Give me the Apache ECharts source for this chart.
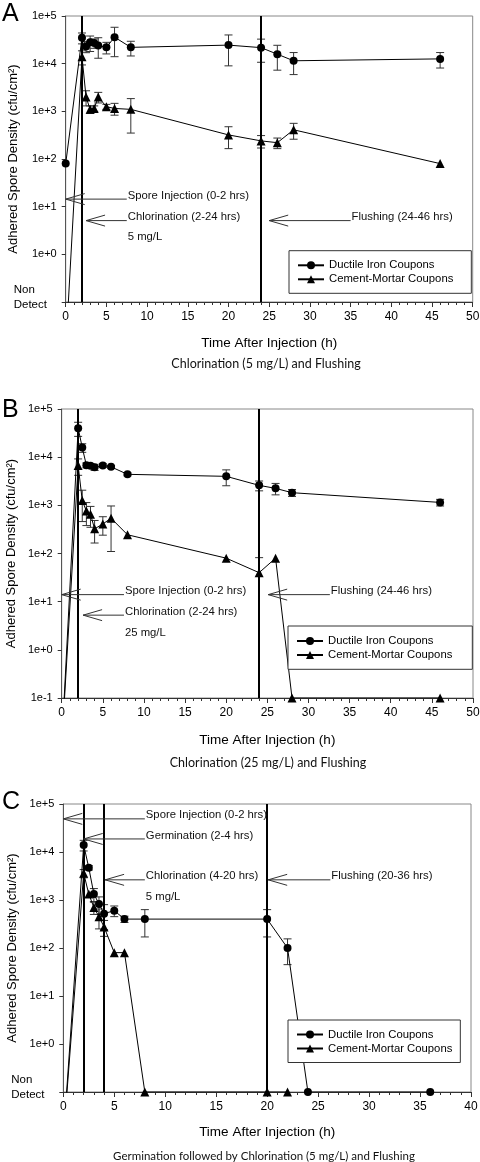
<!DOCTYPE html>
<html><head><meta charset="utf-8">
<script src="https://cdn.jsdelivr.net/npm/echarts@6/dist/echarts.min.js"></script>
<style>html,body{margin:0;padding:0;background:#fff}#c{width:480px;height:1162px}</style>
</head><body><div id="c"></div>
<script>
// ---------- data ----------
const ND = 0.1;      // non-detect, drawn on the axis floor
const BELOW = 0.01;  // t=0 samples below the floor (line enters from the bottom)

// Panel A : Chlorination (5 mg/L) and Flushing
const A_time = [0, 2, 2.5, 3, 3.5, 4, 5, 6, 8, 20, 24, 26, 28, 46];
const A_iron = [80, 35000, 23000, 28000, 27000, 24000, 22000, 36000, 22000, 24500, 21700, 15800, 11500, 12600];
const A_ironErr = [0, 9000, 6000, 10000, 6000, 11000, 6000, 22000, 7500, 15500, 11000, 8500, 5600, 4500];
const A_mortar = [BELOW, 14000, 2000, 1100, 1150, 2000, 1250, 1150, 1100, 320, 240, 220, 410, 80];
const A_mortarErr = [0, 4600, 700, 200, 150, 500, 150, 320, 750, 155, 70, 55, 150, 0];
const A_phases = [2, 24];

// Panel B : Chlorination (25 mg/L) and Flushing
const B_time = [0, 2, 2.5, 3, 3.5, 4, 5, 6, 8, 20, 24, 26, 28, 46];
const B_iron = [BELOW, 40000, 15800, 6800, 6600, 6200, 6700, 6300, 4400, 4000, 2600, 2250, 1830, 1150];
const B_ironErr = [0, 13000, 3200, 800, 700, 900, 600, 400, 300, 1450, 600, 600, 300, 180];
const B_mortar = [BELOW, 6700, 1260, 760, 650, 325, 410, 540, 245, 80, 40, 80, ND, ND];
const B_mortarErr = [0, 2500, 800, 380, 300, 160, 170, 430, 0, 0, 42, 0, 0, 0];
const B_phases = [2, 24];

// Panel C : Germination followed by Chlorination (5 mg/L) and Flushing
const C_time = [0, 2, 2.5, 3, 3.5, 4, 5, 6, 8, 20, 22, 24, 36];
const C_iron = [BELOW, 14000, 4700, 1330, 830, 520, 600, 400, 400, 400, 100, ND, ND];
const C_ironErr = [0, 3500, 500, 400, 330, 280, 150, 60, 230, 230, 55, 0, 0];
const C_mortar = [BELOW, 3600, 1330, 700, 450, 275, 80, 80, ND, ND, ND, null, null];
const C_mortarErr = [0, 700, 0, 200, 200, 100, 0, 0, 0, 0, 0, 0, 0];
const C_phases = [2, 4, 20];

const SERIES_NAMES = ['Ductile Iron Coupons', 'Cement-Mortar Coupons'];
const X_TITLE = 'Time After Injection (h)';
const Y_TITLE = 'Adhered Spore Density (cfu/cm²)';

// annotations: arrow tip [hours, density], text starts at hour textX
const A_notes = [
  {text: 'Spore Injection (0-2 hrs)', tip: [0, 14.4], textX: 7.5},
  {text: 'Chlorination (2-24 hrs)', tip: [2.5, 5.1], textX: 7.5},
  {text: 'Flushing (24-46 hrs)', tip: [25, 5.1], textX: 35}
];
const A_labels = [{text: '5 mg/L', at: [7.5, 2.33]}];
const B_notes = [
  {text: 'Spore Injection (0-2 hrs)', tip: [0, 14], textX: 7.57},
  {text: 'Chlorination (2-24 hrs)', tip: [2.6, 5.25], textX: 7.57},
  {text: 'Flushing (24-46 hrs)', tip: [25.1, 14], textX: 32.6}
];
const B_labels = [{text: '25 mg/L', at: [7.57, 2.2]}];
const C_notes = [
  {text: 'Spore Injection (0-2 hrs)', tip: [0, 49000], textX: 8.0},
  {text: 'Germination (2-4 hrs)', tip: [2.0, 18700], textX: 8.0},
  {text: 'Chlorination (4-20 hrs)', tip: [4.1, 2630], textX: 8.0},
  {text: 'Flushing (20-36 hrs)', tip: [20.1, 2630], textX: 26.2}
];
const C_labels = [{text: '5 mg/L', at: [8.0, 1170]}];

const panels = [
  {letter: 'A', time: A_time, iron: A_iron, ironErr: A_ironErr, mortar: A_mortar, mortarErr: A_mortarErr,
   phases: A_phases, notes: A_notes, labels: A_labels, xMax: 50, nd: true,
   caption: 'Chlorination (5 mg/L) and Flushing',
   grid: {left: 65.7, top: 16, width: 407, height: 286}, nameGapY: 46, nameGapX: 34,
   legend: {left: 289, top: 250.7, padding: [7.6, 18, 7, 8]},
   letterPos: [2, 14], captionPos: [266, 364], captionSize: 12.5},
  {letter: 'B', time: B_time, iron: B_iron, ironErr: B_ironErr, mortar: B_mortar, mortarErr: B_mortarErr,
   phases: B_phases, notes: B_notes, labels: B_labels, xMax: 50, nd: false,
   caption: 'Chlorination (25 mg/L) and Flushing',
   grid: {left: 61.7, top: 409, width: 411.3, height: 289}, nameGapY: 44, nameGapX: 35,
   legend: {left: 288, top: 626, padding: [8, 20, 7.3, 8]},
   letterPos: [2, 410], captionPos: [268, 763], captionSize: 12.5},
  {letter: 'C', time: C_time, iron: C_iron, ironErr: C_ironErr, mortar: C_mortar, mortarErr: C_mortarErr,
   phases: C_phases, notes: C_notes, labels: C_labels, xMax: 40, nd: true,
   caption: 'Germination followed by Chlorination (5 mg/L) and Flushing',
   grid: {left: 63.3, top: 804, width: 407.7, height: 288}, nameGapY: 44, nameGapX: 33,
   legend: {left: 288, top: 1020, padding: [7.5, 8, 7, 8]},
   letterPos: [2, 802], captionPos: [264, 1156], captionSize: 11.5}
];

// ---------- chart ----------
const FONT = '"Liberation Sans", Arial, sans-serif';
const chart = echarts.init(document.getElementById('c'), null, {renderer: 'canvas'});

function pairs(t, v) {
  const out = [];
  t.forEach((x, i) => { if (v[i] != null) out.push([x, v[i]]); });
  return out;
}
function errs(t, v, e) {
  const out = [];
  t.forEach((x, i) => { if (v[i] != null && e[i] > 0) out.push([x, v[i] - e[i], v[i] + e[i]]); });
  return out;
}
function renderErr(params, api) {
  const x = api.value(0), lo = api.value(1), hi = api.value(2);
  const top = api.coord([x, hi]);
  const cs = params.coordSys;
  const below = !(lo > 0);   // lower end under zero: runs off the bottom of the log axis, no cap
  const bot = below ? [top[0], cs.y + cs.height] : api.coord([x, lo]);
  const hw = 4;
  const st = {stroke: '#333', lineWidth: 1};
  const kids = [
    {type: 'line', shape: {x1: top[0], y1: top[1], x2: bot[0], y2: bot[1]}, style: st},
    {type: 'line', shape: {x1: top[0] - hw, y1: top[1], x2: top[0] + hw, y2: top[1]}, style: st}
  ];
  if (!below) kids.push({type: 'line', shape: {x1: bot[0] - hw, y1: bot[1], x2: bot[0] + hw, y2: bot[1]}, style: st});
  return {type: 'group', children: kids};
}
function yFmt(nd) {
  return function (v) {
    const e = Math.round(Math.log10(v));
    if (nd && e === -1) return '{nd|Non}\n{nd|Detect}\n{gap| }';
    return '1e' + (e >= 0 ? '+' : '-') + Math.abs(e);
  };
}

const option = {
  animation: false,
  backgroundColor: '#fff',
  textStyle: {fontFamily: FONT},
  grid: [], xAxis: [], yAxis: [], series: [], legend: []
};

panels.forEach((p, i) => {
  option.grid.push(Object.assign({show: true, borderColor: '#888', borderWidth: 1, backgroundColor: '#fff',
    containLabel: false, outerBoundsMode: 'none'}, p.grid));
  option.xAxis.push({
    gridIndex: i, type: 'value', min: 0, max: p.xMax, interval: 5,
    name: X_TITLE, nameLocation: 'middle', nameGap: p.nameGapX, nameMoveOverlap: false,
    nameTextStyle: {fontSize: 13.5, color: '#000', fontFamily: FONT},
    axisLine: {show: true, onZero: false, lineStyle: {color: '#333', width: 1}},
    axisTick: {show: true, inside: false, length: 5, lineStyle: {color: '#333'}},
    minorTick: {show: true, splitNumber: 5, length: 3, lineStyle: {color: '#333'}},
    splitLine: {show: false},
    axisLabel: {fontSize: 12, color: '#000', margin: 9, fontFamily: FONT}
  });
  option.yAxis.push({
    gridIndex: i, type: 'log', logBase: 10, min: 0.1, max: 100000, splitNumber: 6,
    name: Y_TITLE, nameLocation: 'middle', nameGap: p.nameGapY, nameMoveOverlap: false,
    nameTextStyle: {fontSize: 13, color: '#000', fontFamily: FONT},
    axisLine: {show: true, lineStyle: {color: '#555', width: 1}},
    axisTick: {show: true, inside: false, length: 4, lineStyle: {color: '#333'}},
    splitLine: {show: false},
    minorTick: {show: false},
    axisLabel: {fontSize: 11, color: '#000', margin: 9, fontFamily: FONT,
      formatter: yFmt(p.nd),
      rich: {
        nd: {width: 43, align: 'left', fontSize: 11.5, lineHeight: 15, color: '#000', fontFamily: FONT},
        gap: {width: 43, fontSize: 1, lineHeight: 9}
      }}
  });
  const common = {
    type: 'line', xAxisIndex: i, yAxisIndex: i, clip: true,
    lineStyle: {color: '#000', width: 1}, itemStyle: {color: '#000'},
    emphasis: {disabled: true}, z: 3
  };
  option.series.push(Object.assign({}, common, {
    name: SERIES_NAMES[0], symbol: 'circle', symbolSize: 8, data: pairs(p.time, p.iron),
    markLine: {silent: true, symbol: ['none', 'none'], label: {show: false},
      lineStyle: {color: '#000', width: 2, type: 'solid'},
      data: p.phases.map(x => ({xAxis: x}))}
  }));
  option.series.push(Object.assign({}, common, {
    name: SERIES_NAMES[1], symbol: 'triangle', symbolSize: 9, data: pairs(p.time, p.mortar)
  }));
  option.series.push({type: 'custom', xAxisIndex: i, yAxisIndex: i, renderItem: renderErr,
    encode: {x: 0, y: [1, 2]}, data: errs(p.time, p.iron, p.ironErr), z: 2, silent: true});
  option.series.push({type: 'custom', xAxisIndex: i, yAxisIndex: i, renderItem: renderErr,
    encode: {x: 0, y: [1, 2]}, data: errs(p.time, p.mortar, p.mortarErr), z: 2, silent: true});
  option.legend.push({
    left: p.legend.left, top: p.legend.top, padding: p.legend.padding,
    orient: 'vertical', data: SERIES_NAMES, selectedMode: false,
    borderColor: '#333', borderWidth: 1, backgroundColor: '#fff',
    itemWidth: 26, itemHeight: 10, itemGap: 0,
    textStyle: {fontSize: 11.3, lineHeight: 14, color: '#000', fontFamily: FONT}
  });
});

chart.setOption(option);

// ---------- annotations (positioned through the axes' own scales) ----------
const g = [];
panels.forEach((p, i) => {
  p.notes.forEach(n => {
    const tip = chart.convertToPixel({gridIndex: i}, n.tip);
    const tx = chart.convertToPixel({gridIndex: i}, [n.textX, n.tip[1]])[0];
    g.push({type: 'line', silent: true, shape: {x1: tip[0], y1: tip[1], x2: tx, y2: tip[1]},
      style: {stroke: '#333', lineWidth: 1}, z: 10});
    g.push({type: 'polyline', silent: true,
      shape: {points: [[tip[0] + 19, tip[1] - 5.5], [tip[0], tip[1]], [tip[0] + 19, tip[1] + 5.5]]},
      style: {stroke: '#333', lineWidth: 1, fill: null}, z: 10});
    g.push({type: 'text', silent: true, x: tx + 1, y: tip[1] - 3.5, z: 10,
      style: {text: n.text, fontSize: 11.3, fontFamily: FONT, fill: '#111', align: 'left', verticalAlign: 'middle'}});
  });
  p.labels.forEach(l => {
    const pt = chart.convertToPixel({gridIndex: i}, l.at);
    g.push({type: 'text', silent: true, x: pt[0] + 1, y: pt[1], z: 10,
      style: {text: l.text, fontSize: 11.3, fontFamily: FONT, fill: '#111', align: 'left', verticalAlign: 'middle'}});
  });
  g.push({type: 'text', silent: true, x: p.letterPos[0], y: p.letterPos[1], z: 10,
    style: {text: p.letter, fontSize: 25, fontFamily: FONT, fill: '#000', align: 'left', verticalAlign: 'middle'}});
  g.push({type: 'text', silent: true, x: p.captionPos[0], y: p.captionPos[1], z: 10,
    style: {text: p.caption, fontSize: p.captionSize, fontFamily: 'Lato, "Open Sans", sans-serif', fill: '#111', align: 'center', verticalAlign: 'middle'}});
});
chart.setOption({graphic: g});
</script>
</body></html>
